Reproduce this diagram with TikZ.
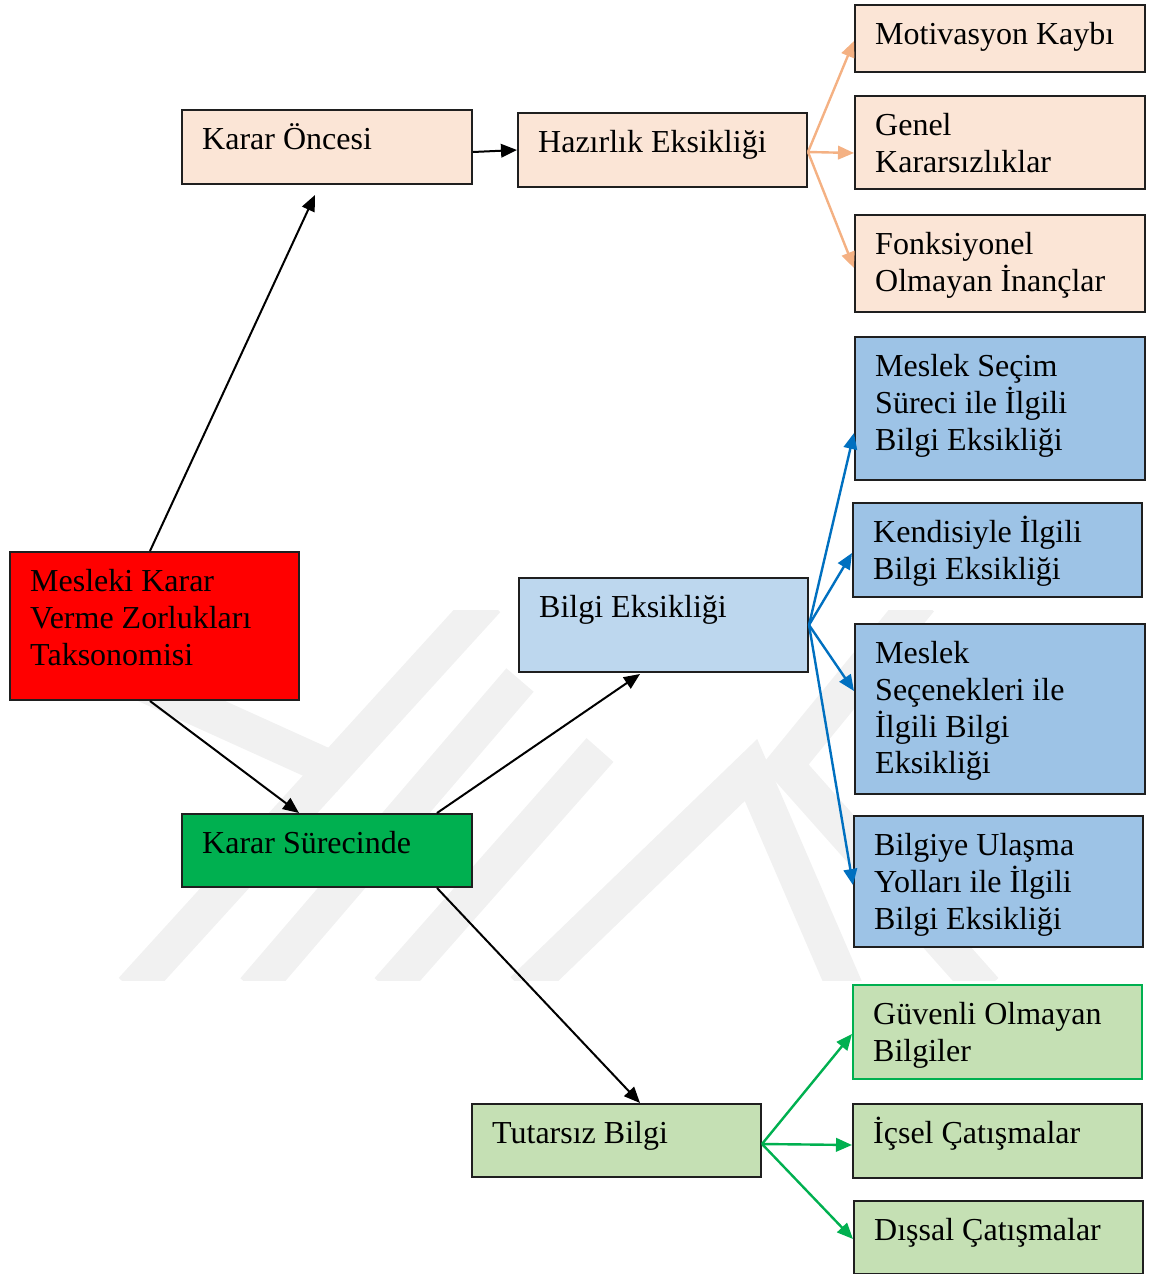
\documentclass[tikz,border=0pt]{standalone}
\usepackage{fontspec}
\setmainfont{Liberation Serif}
\usetikzlibrary{arrows.meta}
\definecolor{peach}{HTML}{FBE5D6}
\definecolor{redfill}{HTML}{FF0000}
\definecolor{greenfill}{HTML}{00B050}
\definecolor{lblue}{HTML}{BDD7EE}
\definecolor{mblue}{HTML}{9DC3E6}
\definecolor{lgreen}{HTML}{C5E0B4}
\definecolor{orangearr}{HTML}{F4B183}
\definecolor{bluearr}{HTML}{0070C0}
\definecolor{greenarr}{HTML}{00B050}
\definecolor{wmgray}{HTML}{F1F1F1}
\newcommand{\boxfont}{\fontsize{32}{36.8}\selectfont}
\begin{document}
\begin{tikzpicture}[x=1pt,y=-1pt,
  bx/.style={draw=black!88, line width=2pt, inner sep=0pt, anchor=north west},
  tx/.style={anchor=base west, align=left, inner sep=0pt, font=\boxfont},
  tipstyle/.style={-{Triangle[length=16pt,width=13.5pt]}},
  arr/.style={tipstyle, line width=2pt, draw=black, fill=black},
  oarr/.style={tipstyle, line width=2.4pt, draw=orangearr, fill=orangearr},
  barr/.style={tipstyle, line width=2.4pt, draw=bluearr, fill=bluearr},
  garr/.style={tipstyle, line width=2.4pt, draw=greenarr, fill=greenarr},
  wm/.style={draw=wmgray, line width=36pt, line join=miter}]
\useasboundingbox (0,0) rectangle (1149,1274);
% watermark
\begin{scope}
\clip (0,610) rectangle (1149,980);
\draw[wm] (132,990) -- (487,600);
\draw[wm] (80,655) -- (345,775);
\draw[wm] (254,990) -- (520,680);
\draw[wm] (388,990) -- (600,750);
\draw[wm] (523,990) -- (751,770) -- (846,990);
\draw[wm] (920,600) -- (785,765) -- (985,990);
\end{scope}
% boxes
\node[bx, fill=peach, minimum width=290pt, minimum height=67pt] (mk) at (854,4) {};
\node[bx, fill=peach, minimum width=290pt, minimum height=93pt] (gk) at (854,95) {};
\node[bx, fill=peach, minimum width=290pt, minimum height=97pt] (fo) at (854,214) {};
\node[bx, fill=peach, minimum width=290pt, minimum height=74pt] (ko) at (181,109) {};
\node[bx, fill=peach, minimum width=289pt, minimum height=74pt] (hz) at (517,112) {};
\node[bx, fill=mblue, minimum width=290pt, minimum height=143pt] (ms) at (854,336) {};
\node[bx, fill=mblue, minimum width=289pt, minimum height=94pt] (ki) at (852,502) {};
\node[bx, fill=mblue, minimum width=290pt, minimum height=170pt] (mse) at (854,623) {};
\node[bx, fill=mblue, minimum width=289pt, minimum height=131pt] (bu) at (853,815) {};
\node[bx, draw=greenfill, fill=lgreen, minimum width=289pt, minimum height=94pt] (go) at (852,984) {};
\node[bx, fill=lgreen, minimum width=289pt, minimum height=74pt] (ic) at (852,1103) {};
\node[bx, fill=lgreen, minimum width=289pt, minimum height=73pt] (di) at (853,1200) {};
\node[bx, fill=lgreen, minimum width=289pt, minimum height=73pt] (tb) at (471,1103) {};
\node[bx, fill=greenfill, minimum width=290pt, minimum height=73pt] (ks) at (181,813) {};
\node[bx, fill=lblue, minimum width=289pt, minimum height=94pt] (be) at (518,577) {};
\node[bx, fill=redfill, minimum width=289pt, minimum height=148pt] (mv) at (9,551) {};
% texts (base anchor = last line baseline)
\node[tx] (mkt) at ([shift={(21pt,-40.5pt)}]mk.north west) {Motivasyon Kaybı};
\node[tx] (gkt) at ([shift={(21pt,-77.3pt)}]gk.north west) {Genel\\Kararsızlıklar};
\node[tx] (fot) at ([shift={(21pt,-77.3pt)}]fo.north west) {Fonksiyonel\\Olmayan İnançlar};
\node[tx] (kot) at ([shift={(21pt,-40.5pt)}]ko.north west) {Karar Öncesi};
\node[tx] (hzt) at ([shift={(21pt,-40.5pt)}]hz.north west) {Hazırlık Eksikliği};
\node[tx] (mst) at ([shift={(21pt,-114.1pt)}]ms.north west) {Meslek Seçim\\Süreci ile İlgili\\Bilgi Eksikliği};
\node[tx] (kit) at ([shift={(21pt,-77.3pt)}]ki.north west) {Kendisiyle İlgili\\Bilgi Eksikliği};
\node[tx] (mset) at ([shift={(21pt,-150.9pt)}]mse.north west) {Meslek\\Seçenekleri ile\\İlgili Bilgi\\Eksikliği};
\node[tx] (but) at ([shift={(21pt,-114.1pt)}]bu.north west) {Bilgiye Ulaşma\\Yolları ile İlgili\\Bilgi Eksikliği};
\node[tx] (got) at ([shift={(21pt,-77.3pt)}]go.north west) {Güvenli Olmayan\\Bilgiler};
\node[tx] (ict) at ([shift={(21pt,-40.5pt)}]ic.north west) {İçsel Çatışmalar};
\node[tx] (dit) at ([shift={(21pt,-40.5pt)}]di.north west) {Dışsal Çatışmalar};
\node[tx] (tbt) at ([shift={(21pt,-40.5pt)}]tb.north west) {Tutarsız Bilgi};
\node[tx] (kst) at ([shift={(21pt,-40.5pt)}]ks.north west) {Karar Sürecinde};
\node[tx] (bet) at ([shift={(21pt,-40.5pt)}]be.north west) {Bilgi Eksikliği};
\node[tx] (mvt) at ([shift={(21pt,-114.1pt)}]mv.north west) {Mesleki Karar\\Verme Zorlukları\\Taksonomisi};
% black connectors
\draw[arr] ([xshift=-4.5pt]mv.north) -- ([shift={(-12pt,-10pt)}]ko.south);
\draw[arr] ([xshift=-4.5pt]mv.south) -- ([xshift=-28pt]ks.north);
\draw[arr] ([yshift=-5pt]ko.east) -- (hz.west);
\draw[arr] ([xshift=110pt]ks.north) -- ([shift={(-23.5pt,-1pt)}]be.south);
\draw[arr] ([xshift=110pt]ks.south) -- ([xshift=23.5pt]tb.north);
% orange connectors
\draw[oarr] ([yshift=-2pt]hz.east) -- ([yshift=-2.5pt]mk.west);
\draw[oarr] ([yshift=-2pt]hz.east) -- ([yshift=-10.5pt]gk.west);
\draw[oarr] ([yshift=-2pt]hz.east) -- ([yshift=-4.5pt]fo.west);
% blue connectors
\draw[barr] (be.east) -- ([yshift=-24.5pt]ms.west);
\draw[barr] (be.east) -- ([yshift=-3pt]ki.west);
\draw[barr] (be.east) -- ([yshift=18pt]mse.west);
\draw[barr] (be.east) -- ([yshift=-3.5pt]bu.west);
% green connectors
\draw[garr] ([yshift=-3.5pt]tb.east) -- ([yshift=-2pt]go.west);
\draw[garr] ([yshift=-3.5pt]tb.east) -- ([yshift=-4pt]ic.west);
\draw[garr] ([yshift=-3.5pt]tb.east) -- ([yshift=-1.5pt]di.west);
\end{tikzpicture}
\end{document}
